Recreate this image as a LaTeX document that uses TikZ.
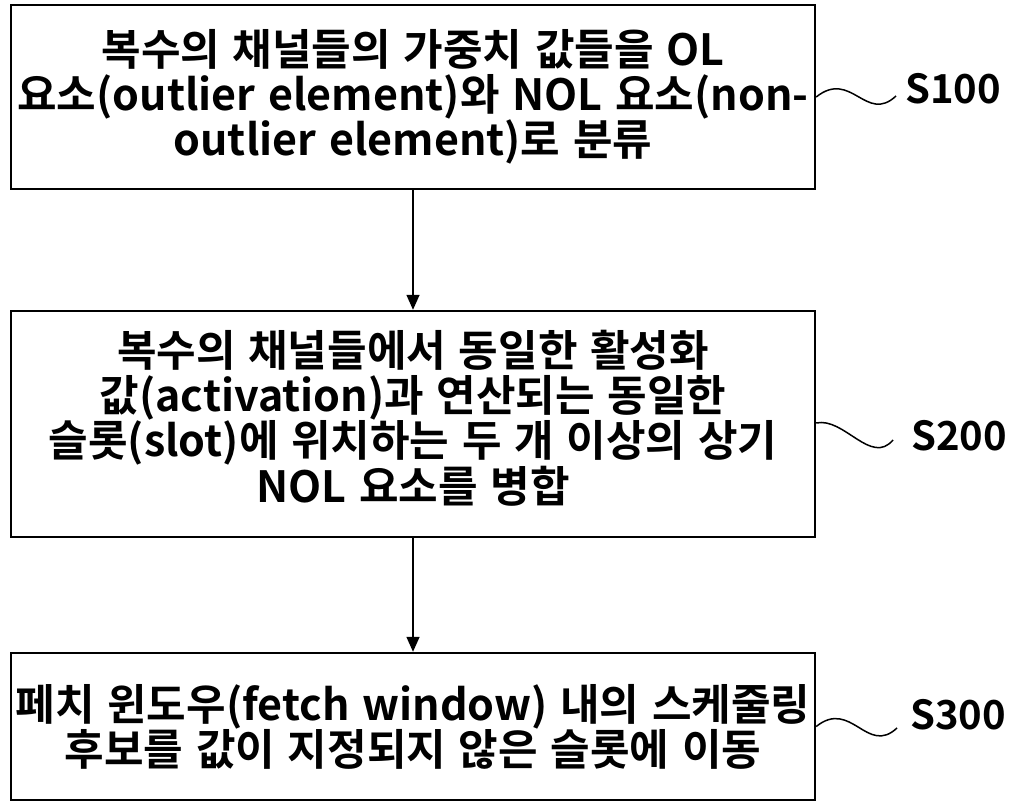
\documentclass[tikz,border=0pt]{standalone}
\usepackage{fontspec}
\setmainfont{Noto Sans CJK KR}[BoldFont={* Bold}, WordSpace=1.3]
\usetikzlibrary{calc, arrows.meta, positioning}

\begin{document}
\begin{tikzpicture}[x=1pt, y=-1pt, >={Triangle[width=13pt,length=15pt]},
    stepbox/.style={draw, line width=2.4pt, minimum width=804pt, inner sep=0pt,
      align=center, font=\fontsize{43}{45}\selectfont\bfseries},
    steplabel/.style={anchor=south west, inner sep=0pt,
      font=\fontsize{40}{42}\selectfont\bfseries},
    flow/.style={->, line width=1.5pt},
    wave/.style={line width=1.5pt}]
    % --- Canvas ---
    \useasboundingbox (0,0) rectangle (1009,802);

    % --- Step boxes ---
    \node[stepbox, minimum height=184pt] (s100) at (413,97)
      {복수의 채널들의 가중치 값들을 OL\\
       요소(outlier element)와 NOL 요소(non-\\
       outlier element)로 분류};
    \node[stepbox, minimum height=226pt] (s200) at (413,424)
      {복수의 채널들에서 동일한 활성화\\
       값(activation)과 연산되는 동일한\\
       슬롯(slot)에 위치하는 두 개 이상의 상기\\
       NOL 요소를 병합\\[-29pt]\mbox{}};
    \node[stepbox, minimum height=147pt] (s300) at (413,726.5)
      {페치 윈도우(fetch window) 내의 스케줄링\\
       후보를 값이 지정되지 않은 슬롯에 이동};

    % --- Flow arrows ---
    \draw[flow] (s100) -- (s200);
    \draw[flow] (s200) -- (s300);

    % --- Step labels ---
    \node[steplabel] (l100) at (905,104) {S100};
    \node[steplabel] (l200) at (911,451) {S200};
    \node[steplabel] (l300) at (910,730) {S300};

    % --- Wavy leaders ---
    \coordinate (w100) at ($(l100.south west)+(-9,-8)$);
    \coordinate (w200) at ($(l200.south west)+(-18,-11)$);
    \coordinate (w300) at ($(l300.south west)+(-13,-2)$);
    \draw[wave] (s100.east) .. controls +(35,-28) and +(-30,28) .. (w100);
    \draw[wave] ([yshift=1pt]s200.east) .. controls +(28,-6) and +(-22,26) .. (w200);
    \draw[wave] (s300.east) .. controls +(35,-28) and +(-30,28) .. (w300);
  \end{tikzpicture}
\end{document}
